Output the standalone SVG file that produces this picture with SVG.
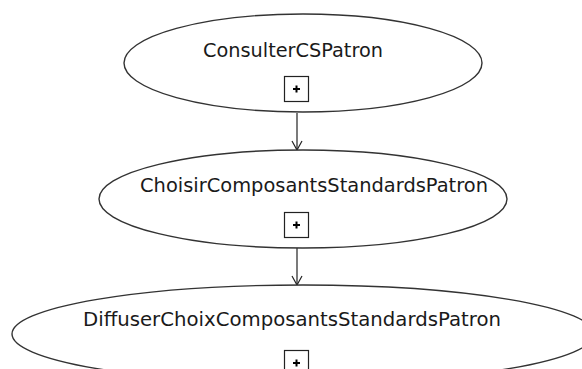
<svg xmlns="http://www.w3.org/2000/svg" width="582" height="369" viewBox="0 0 582 369">
<style>
.node ellipse{fill:#fff;stroke:#333;stroke-width:1.4}
.lbl{font-family:"DejaVu Sans",Verdana,sans-serif;font-size:19px;fill:#1a1a1a}
.box{fill:#fff;stroke:#222;stroke-width:1.2}
.plus{stroke:#000;stroke-width:2}
.conn{stroke:#222;stroke-width:1.2;fill:none}
</style>
<defs>
<marker id="arr" markerWidth="12" markerHeight="12" refX="10" refY="6" orient="auto" markerUnits="userSpaceOnUse" viewBox="0 0 12 12">
<path d="M1,1 L10,6 L1,11" fill="none" stroke="#222" stroke-width="1.2"/>
</marker>
</defs>
<rect width="582" height="369" fill="#fff"/>
<g id="connectors">
<line class="conn" x1="297" y1="113" x2="297" y2="150" marker-end="url(#arr)"/>
<line class="conn" x1="297" y1="248" x2="297" y2="285" marker-end="url(#arr)"/>
</g>
<g id="ConsulterCSPatron" class="node">
<ellipse cx="303" cy="63" rx="179" ry="49"/>
<text class="lbl" x="203" y="57" textLength="180" lengthAdjust="spacingAndGlyphs">ConsulterCSPatron</text>
<rect class="box" x="284.5" y="76.5" width="24" height="25"/>
<path class="plus" d="M293,89 h7 M296.5,85.5 v7"/>
</g>
<g id="ChoisirComposantsStandardsPatron" class="node">
<ellipse cx="303" cy="199" rx="204" ry="49"/>
<text class="lbl" x="140" y="192" textLength="348" lengthAdjust="spacingAndGlyphs">ChoisirComposantsStandardsPatron</text>
<rect class="box" x="284.5" y="212.5" width="24" height="25"/>
<path class="plus" d="M293,225 h7 M296.5,221.5 v7"/>
</g>
<g id="DiffuserChoixComposantsStandardsPatron" class="node">
<ellipse cx="303" cy="334" rx="291" ry="49"/>
<text class="lbl" x="83" y="326" textLength="418" lengthAdjust="spacingAndGlyphs">DiffuserChoixComposantsStandardsPatron</text>
<rect class="box" x="284.5" y="350.5" width="24" height="25"/>
<path class="plus" d="M293,363 h7 M296.5,359.5 v7"/>
</g>
</svg>
